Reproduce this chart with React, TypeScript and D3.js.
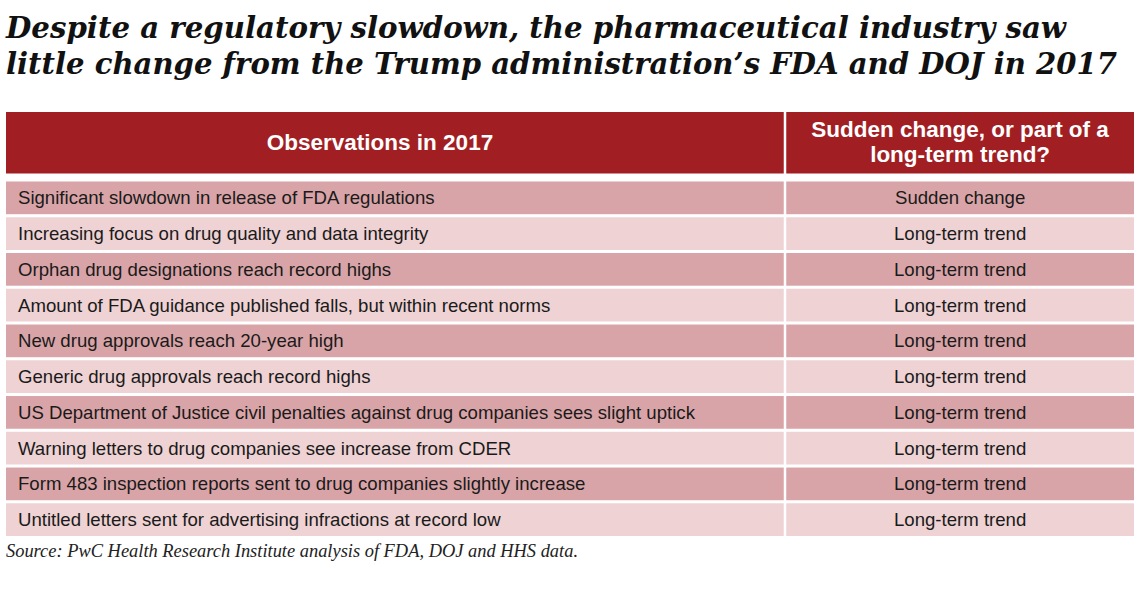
import React from "react";
import * as d3 from "d3";

const titleLines = [
  "Despite a regulatory slowdown, the pharmaceutical industry saw",
  "little change from the Trump administration\u2019s FDA and DOJ in 2017",
];
const headers = ["Observations in 2017", "Sudden change, or part of a|long-term trend?"];
const observations = [
  "Significant slowdown in release of FDA regulations",
  "Increasing focus on drug quality and data integrity",
  "Orphan drug designations reach record highs",
  "Amount of FDA guidance published falls, but within recent norms",
  "New drug approvals reach 20-year high",
  "Generic drug approvals reach record highs",
  "US Department of Justice civil penalties against drug companies sees slight uptick",
  "Warning letters to drug companies see increase from CDER",
  "Form 483 inspection reports sent to drug companies slightly increase",
  "Untitled letters sent for advertising infractions at record low",
];
const assessments = [
  "Sudden change",
  "Long-term trend",
  "Long-term trend",
  "Long-term trend",
  "Long-term trend",
  "Long-term trend",
  "Long-term trend",
  "Long-term trend",
  "Long-term trend",
  "Long-term trend",
];
const source = "Source: PwC Health Research Institute analysis of FDA, DOJ and HHS data.";

export default function App() {
  const W = 1140, H = 594;
  const left = 6, split = 785, right = 1134, gap = 2.5;
  const headerTop = 112, headerBottom = 173.5;
  const y = d3
    .scaleBand<number>()
    .domain(d3.range(observations.length))
    .range([181.5, 536])
    .paddingInner(0.085)
    .paddingOuter(0);
  const col0 = { x: left, w: split - left - gap / 2 };
  const col1 = { x: split + gap / 2, w: right - split - gap / 2 };
  const sans = "'Liberation Sans', Arial, Helvetica, sans-serif";
  const serif = "'DejaVu Serif', Georgia, serif";
  const serif2 = "'Liberation Serif', 'Times New Roman', serif";
  const headerFill = "#a11f23";
  const darkRow = "#d9a4a7";
  const lightRow = "#eed2d4";
  const [h1a, h1b] = headers[1].split("|");
  return (
    <svg
      width={W}
      height={H}
      style={{ position: "absolute", left: 0, top: 0, background: "#fff" }}
    >
      {titleLines.map((t, i) => (
        <text
          key={i}
          x={6}
          y={38 + i * 36}
          fontFamily={serif}
          fontWeight="bold"
          fontStyle="italic"
          fontSize={29}
          fill="#111"
          textLength={i === 0 ? 1060 : 1111}
          lengthAdjust="spacingAndGlyphs"
        >
          {t}
        </text>
      ))}
      <rect x={col0.x} y={headerTop} width={col0.w} height={headerBottom - headerTop} fill={headerFill} />
      <rect x={col1.x} y={headerTop} width={col1.w} height={headerBottom - headerTop} fill={headerFill} />
      <text x={380} y={150} textAnchor="middle" fontFamily={sans} fontWeight="bold" fontSize={22.5} fill="#fff">
        {headers[0]}
      </text>
      <text x={col1.x + col1.w / 2} y={137} textAnchor="middle" fontFamily={sans} fontWeight="bold" fontSize={22.5} fill="#fff">
        {h1a}
      </text>
      <text x={col1.x + col1.w / 2} y={162} textAnchor="middle" fontFamily={sans} fontWeight="bold" fontSize={22.5} fill="#fff">
        {h1b}
      </text>
      {observations.map((obs, i) => {
        const top = y(i)!;
        const h = y.bandwidth();
        const fill = i % 2 === 0 ? darkRow : lightRow;
        const cy = top + h / 2 + 6.5;
        return (
          <g key={i}>
            <rect x={col0.x} y={top} width={col0.w} height={h} fill={fill} />
            <rect x={col1.x} y={top} width={col1.w} height={h} fill={fill} />
            <text x={18} y={cy} fontFamily={sans} fontSize={18.6} fill="#1a1a1a">
              {obs}
            </text>
            <text x={col1.x + col1.w / 2} y={cy} textAnchor="middle" fontFamily={sans} fontSize={18.6} fill="#1a1a1a">
              {assessments[i]}
            </text>
          </g>
        );
      })}
      <text x={6} y={557} fontFamily={serif2} fontStyle="italic" fontSize={19} fill="#222" textLength={572} lengthAdjust="spacingAndGlyphs">
        {source}
      </text>
    </svg>
  );
}
